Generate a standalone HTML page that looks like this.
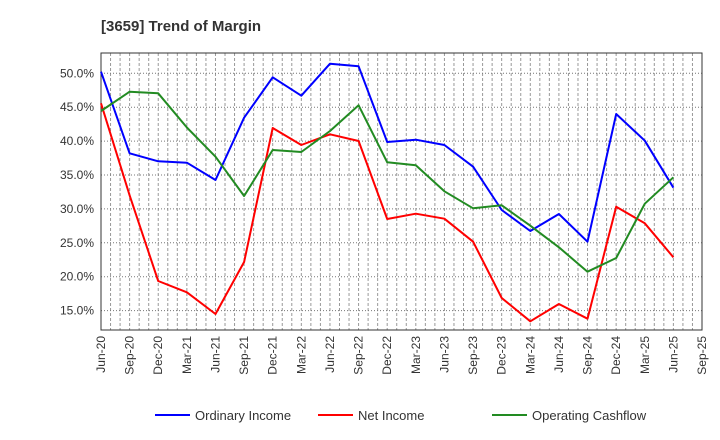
<!DOCTYPE html>
<html><head><meta charset="utf-8"><style>
html,body{margin:0;padding:0;background:#fff;}
svg{display:block;font-family:"Liberation Sans",Arial,sans-serif;}
</style></head><body>
<svg id="s" width="720" height="440" xmlns="http://www.w3.org/2000/svg">
<text x="101" y="31" font-size="15" font-weight="bold" fill="#333">[3659]  Trend of Margin</text>
<g id="grid"></g>
<rect x="101" y="53" width="601" height="277" fill="none" stroke="#333" stroke-width="1"/>
<g id="lines" fill="none" stroke-width="2" stroke-linejoin="round"></g>
<g id="labels" font-size="12" fill="#333"></g>
<g font-size="13" fill="#333">
<line x1="155" y1="415" x2="190" y2="415" stroke="#0000ff" stroke-width="2"/>
<text x="195" y="420">Ordinary Income</text>
<line x1="318" y1="415" x2="353" y2="415" stroke="#ff0000" stroke-width="2"/>
<text x="358" y="420">Net Income</text>
<line x1="492" y1="415" x2="527" y2="415" stroke="#228b22" stroke-width="2"/>
<text x="532" y="420">Operating Cashflow</text>
</g>
</svg>
<script>
var ns="http://www.w3.org/2000/svg";
function el(t,a,p){var e=document.createElementNS(ns,t);for(var k in a)e.setAttribute(k,a[k]);p.appendChild(e);return e;}
var g=document.getElementById('grid'),L=document.getElementById('labels'),ln=document.getElementById('lines');
for(var m=1;m<63;m++){var x=101+m*601/63;el('line',{x1:x,y1:53,x2:x,y2:330,stroke:'#999','stroke-width':1,'stroke-dasharray':'3,2'},g);}
for(var v=15;v<=50;v+=5){var y=73.3+(50-v)*6.78;el('line',{x1:101,y1:y,x2:702,y2:y,stroke:'#777','stroke-width':1,'stroke-dasharray':'1,2'},g);
var t=el('text',{x:94,y:y+4,'text-anchor':'end'},L);t.textContent=v.toFixed(1)+'%';}
var mo=['Jun','Sep','Dec','Mar'];
for(var i=0;i<=21;i++){var x=101+i*28.62;var yr=20+Math.floor((i+1)/4);var lab=mo[i%4]+'-'+yr;
var t=el('text',{x:0,y:0,'text-anchor':'end',transform:'translate('+(x+4)+',336) rotate(-90)'},L);t.textContent=lab;}
var B=[71.7,153.3,161.3,162.7,180,117.7,77.3,95.7,63.7,66.3,142,139.7,145,166.7,210,231,214,241.7,114,140.7,187.7];
var R=[103.3,195.3,281,292.3,314,262,128,145,134.3,141,219,213.7,218.7,241.7,298,321.3,304,318.7,206.7,223.3,257.3];
var G=[111,91.7,93.3,127.5,156.7,196,150,152,131,105.3,162.3,165.3,191.3,208.3,205.3,225.7,247.3,271.7,258,203.7,177.3];
[[B,'#0000ff'],[R,'#ff0000'],[G,'#228b22']].forEach(function(s){
el('polyline',{points:s[0].map(function(y,i){return (101+i*28.62).toFixed(1)+','+y;}).join(' '),stroke:s[1]},ln);});
</script>
</body></html>
